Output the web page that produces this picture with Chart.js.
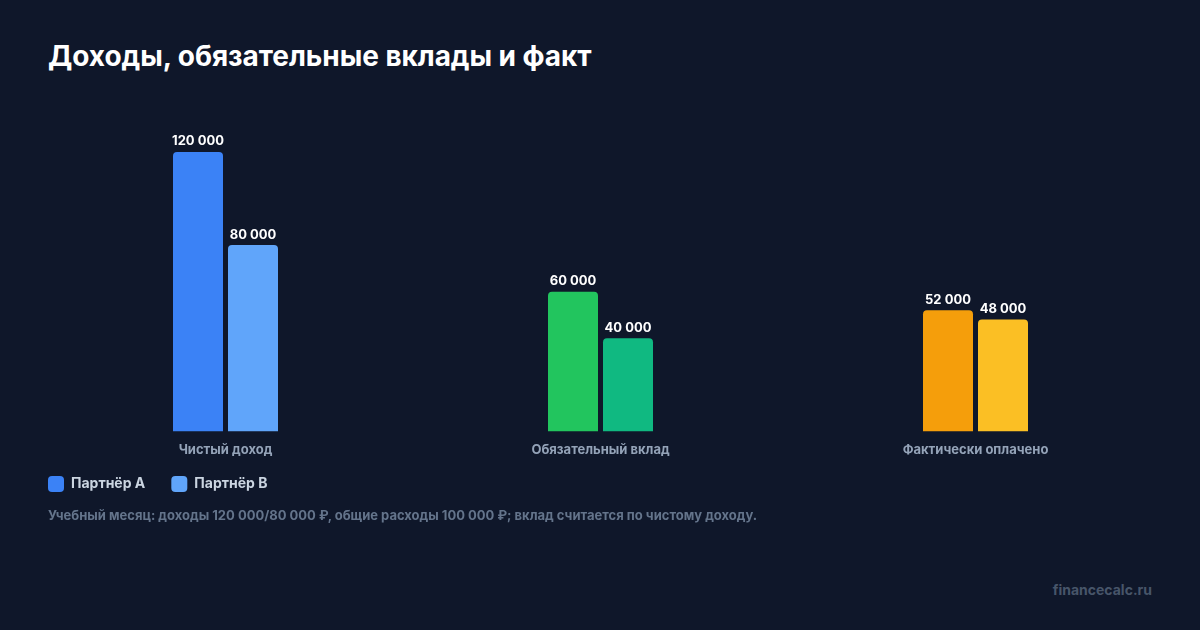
<!DOCTYPE html>
<html><head><meta charset="utf-8">
<script src="https://cdn.jsdelivr.net/npm/chart.js@4/dist/chart.umd.min.js"></script>
<style>
html,body{margin:0;padding:0;background:#0f172a;width:1200px;height:630px;overflow:hidden;font-family:Inter,"Noto Sans",sans-serif;}
#title{position:absolute;left:48px;top:39px;color:#fff;font-weight:700;font-size:28px;letter-spacing:-0.05px;white-space:nowrap;}
#wrap{position:absolute;left:38px;top:100px;width:1125px;height:413px;}
#note{position:absolute;left:48px;top:507px;color:#64748b;font-weight:700;font-size:13px;white-space:nowrap;}
#wm{position:absolute;right:48px;top:581px;color:#475569;font-weight:700;font-size:14px;white-space:nowrap;}
</style></head><body>
<div id="title">Доходы, обязательные вклады и факт</div>
<div id="wrap"><canvas id="c"></canvas></div>
<div id="note">Учебный месяц: доходы 120 000/80 000 ₽, общие расходы 100 000 ₽; вклад считается по чистому доходу.</div>
<div id="wm">financecalc.ru</div>
<script>
const categories = ["Чистый доход", "Обязательный вклад", "Фактически оплачено"];
const seriesNames = ["Партнёр А", "Партнёр B"];
const partnerA = [120000, 60000, 52000];
const partnerB = [80000, 40000, 48000];
const colorsA = ["#3b82f6", "#22c55e", "#f59e0b"];
const colorsB = ["#60a5fa", "#10b981", "#fbbf24"];

const fmt = v => String(v).replace(/\B(?=(\d{3})+(?!\d))/g, " ");

const valueLabels = {
  id: "valueLabels",
  afterDatasetsDraw(chart) {
    const ctx = chart.ctx;
    ctx.save();
    ctx.font = "700 13px Inter";
    ctx.fillStyle = "#ffffff";
    ctx.textAlign = "center";
    ctx.textBaseline = "bottom";
    chart.data.datasets.forEach((ds, i) => {
      chart.getDatasetMeta(i).data.forEach((bar, j) => {
        ctx.fillText(fmt(ds.data[j]), bar.x, bar.y - 4);
      });
    });
    ctx.restore();
  }
};

const legendShift = {
  id: "legendShift",
  afterLayout(chart) {
    const lg = chart.legend;
    if (!lg) return;
    lg.left -= 16; lg.right -= 16;
    lg.top -= 11; lg.bottom -= 11;
  }
};

new Chart(document.getElementById("c"), {
  type: "bar",
  data: {
    labels: categories,
    datasets: [
      { label: seriesNames[0], data: partnerA, backgroundColor: colorsA },
      { label: seriesNames[1], data: partnerB, backgroundColor: colorsB }
    ]
  },
  options: {
    responsive: true,
    maintainAspectRatio: false,
    animation: false,
    devicePixelRatio: 1,
    layout: { padding: { top: 24, left: 0, right: 0, bottom: 0 } },
    datasets: { bar: {
      categoryPercentage: 110 / 375,
      barPercentage: 50 / 55,
      borderRadius: { topLeft: 4, topRight: 4, bottomLeft: 0, bottomRight: 0 },
      borderSkipped: false
    } },
    scales: {
      x: {
        grid: { display: false },
        border: { display: false },
        ticks: { color: "#94a3b8", font: { family: "Inter", size: 13, weight: "700" }, padding: 3 }
      },
      y: { display: false, min: 0, max: 132000 }
    },
    plugins: {
      tooltip: { enabled: false },
      legend: {
        position: "bottom",
        align: "start",
        labels: {
          boxWidth: 16, boxHeight: 16, useBorderRadius: true, borderRadius: 4,
          padding: 26,
          color: "#cbd5e1",
          font: { family: "Inter", size: 14, weight: "700" },
          generateLabels(chart) {
            return chart.data.datasets.map((ds, i) => ({
              text: ds.label, fillStyle: [colorsA, colorsB][i][0], strokeStyle: "transparent",
              lineWidth: 0, borderRadius: 4, datasetIndex: i, hidden: false, fontColor: "#cbd5e1"
            }));
          }
        }
      }
    }
  },
  plugins: [valueLabels, legendShift]
});
</script>
</body></html>
